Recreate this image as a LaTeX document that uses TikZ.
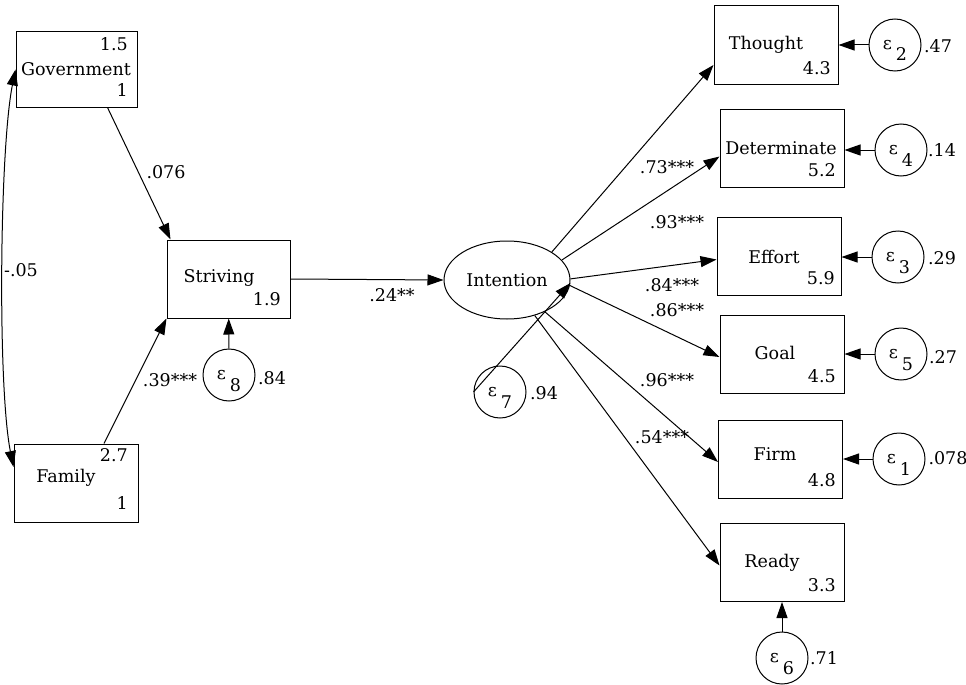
\documentclass[tikz,border=0pt]{standalone}
\usepackage{fontspec}
\setmainfont{DejaVu Serif}
\usetikzlibrary{arrows.meta,calc,shapes.geometric}
\begin{document}
\begin{tikzpicture}[x=1pt,y=-1pt,
 every node/.style={font=\fontsize{17.5}{20}\selectfont},
 var/.style={draw, rectangle, minimum width=124pt, minimum height=78pt, inner sep=0pt, line width=1pt},
 epsc/.style={draw, circle, minimum size=52pt, inner sep=0pt, text height=8pt, text depth=0pt, line width=1pt},
 lat/.style={draw, ellipse, minimum width=126pt, minimum height=78pt, inner sep=0pt, line width=1pt},
 arr/.style={line width=1pt, -{Triangle[length=16pt,width=11pt]}},
 lab/.style={inner sep=0pt},
 num/.style={inner sep=0pt, anchor=east}]
\useasboundingbox (0,0) rectangle (966,685);

% observed variables (left)
\node[var, minimum width=121pt, minimum height=75pt] (gov) at (76.5,69.5) {};
\node[lab] (govt) at (76,69) {Government};
\node[num] (govm) at (128,44) {1.5};
\node[num] (govv) at (128,90) {1};

\node[var, minimum width=123pt] (str) at (228.5,279) {};
\node[lab] (strt) at (219,278) {Striving};
\node[num] (strm) at (281,299) {1.9};

\node[var] (fam) at (76,483) {};
\node[num] (famm) at (128,455) {2.7};
\node[lab] (famt) at (66,478) {Family};
\node[num] (famv) at (128,503) {1};

% latent
\node[lat] (int) at (507,280) {Intention};

% indicators
\node[var] (th) at (776,45) {};
\node[lab] (tht) at (766,45) {Thought};
\node[num] (thm) at (831,68) {4.3};

\node[var] (det) at (782,148.5) {};
\node[lab] (dett) at (781,148) {Determinate};
\node[num] (detm) at (836,170) {5.2};

\node[var] (eff) at (779,256.5) {};
\node[lab] (efft) at (774,257) {Effort};
\node[num] (effm) at (835,278) {5.9};

\node[var] (goal) at (782,354) {};
\node[lab] (goalt) at (775,353) {Goal};
\node[num] (goalm) at (836,376) {4.5};

\node[var] (firm) at (780.5,459) {};
\node[lab] (firmt) at (775,454) {Firm};
\node[num] (firmm) at (836,480) {4.8};

\node[var] (rdy) at (782,562.5) {};
\node[lab] (rdyt) at (772,563) {Ready};
\node[num] (rdym) at (836,585) {3.3};

% error terms
\node[epsc] (e8) at (229,375) {ε\hspace{4pt}\raisebox{-12pt}{8}};
\node[epsc] (e7) at (500,392) {ε\hspace{4pt}\raisebox{-12pt}{7}};
\node[epsc] (e2) at (895,45) {ε\hspace{4pt}\raisebox{-12pt}{2}};
\node[epsc] (e4) at (901,150) {ε\hspace{4pt}\raisebox{-12pt}{4}};
\node[epsc] (e3) at (898,257) {ε\hspace{4pt}\raisebox{-12pt}{3}};
\node[epsc] (e5) at (901,354) {ε\hspace{4pt}\raisebox{-12pt}{5}};
\node[epsc] (e1) at (899,459) {ε\hspace{4pt}\raisebox{-12pt}{1}};
\node[epsc] (e6) at (782,658) {ε\hspace{4pt}\raisebox{-12pt}{6}};

% variance labels
\node[lab] (v8) at (272,378) {.84};
\node[lab] (v7) at (544,393) {.94};
\node[lab] (v2) at (938,46) {.47};
\node[lab] (v4) at (942,150) {.14};
\node[lab] (v3) at (942,258) {.29};
\node[lab] (v5) at (943,357) {.27};
\node[lab] (v1) at (948,458) {.078};
\node[lab] (v6) at (824,658) {.71};

% structural paths
\draw[arr] ([xshift=31pt]gov.south) -- ([xshift=4pt]str.north west);
\draw[arr] ([xshift=28pt]fam.north) -- (str.south west);
\draw[arr] (str.east) -- (int.west);
\draw[line width=1pt, {Triangle[length=16pt,width=11pt]}-{Triangle[length=16pt,width=11pt]}]
  (gov.west) .. controls +(-16,80) and +(-16,-80) .. ([yshift=16pt]fam.west);

% measurement paths
\draw[arr] (int.32) -- ([yshift=-20pt]th.west);
\draw[arr] (int.20) -- ([yshift=-8pt]det.west);
\draw[arr] (int.1) -- ([yshift=-3pt]eff.west);
\draw[arr] (int.-5) -- ([yshift=-3pt]goal.west);
\draw[arr] (int.-40) -- ([yshift=-3pt]firm.west);
\draw[arr] (int.-52) -- ([yshift=-3pt]rdy.west);

% error paths
\draw[arr] (e8) -- (str);
\draw[arr] (e7.west) -- ([yshift=-3pt]int.east);
\draw[arr] (e2.west) -- (e2.west -| th.east);
\draw[arr] (e4.west) -- (e4.west -| det.east);
\draw[arr] (e3.west) -- (e3.west -| eff.east);
\draw[arr] (e5.west) -- (e5.west -| goal.east);
\draw[arr] (e1.west) -- (e1.west -| firm.east);
\draw[arr] (e6.north) -- (e6.north |- rdy.south);

% path labels
\node[lab] (l1) at (166,172) {.076};
\node[lab] (l2) at (170,380) {.39***};
\node[lab] (l3) at (21,270) {-.05};
\node[lab] (l4) at (392,295) {.24**};
\node[lab] (l5) at (667,167) {.73***};
\node[lab] (l6) at (677,222) {.93***};
\node[lab] (l7) at (672,285) {.84***};
\node[lab] (l8) at (677,310) {.86***};
\node[lab] (l9) at (667,380) {.96***};
\node[lab] (l10) at (662,437) {.54***};
\end{tikzpicture}
\end{document}
